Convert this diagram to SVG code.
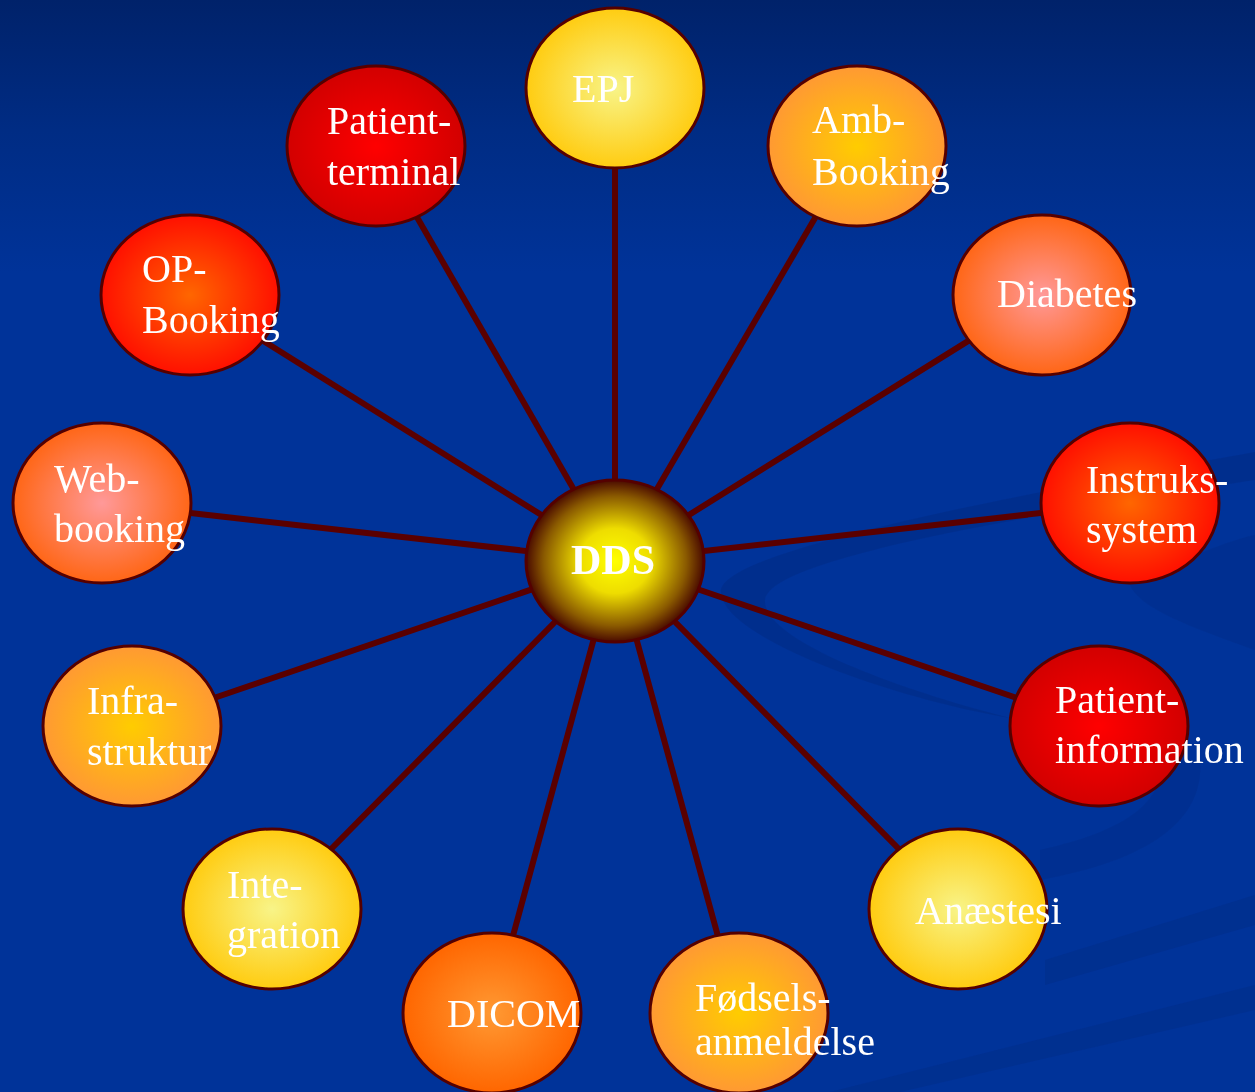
<svg xmlns="http://www.w3.org/2000/svg" width="1255" height="1092" viewBox="0 0 1255 1092">
<defs>
<linearGradient id="bg" x1="0" y1="0" x2="0" y2="1">
<stop offset="0" stop-color="#00226a"/>
<stop offset="0.12" stop-color="#002c84"/>
<stop offset="0.25" stop-color="#003399"/>
<stop offset="1" stop-color="#003399"/>
</linearGradient>
<radialGradient id="gYellow"><stop offset="0" stop-color="#f8f488"/><stop offset="1" stop-color="#ffcc11"/></radialGradient>
<radialGradient id="gRed"><stop offset="0" stop-color="#ff0000"/><stop offset="1" stop-color="#d20000"/></radialGradient>
<radialGradient id="gOrange"><stop offset="0" stop-color="#ffcc00"/><stop offset="1" stop-color="#ff9933"/></radialGradient>
<radialGradient id="gPink"><stop offset="0" stop-color="#ff9999"/><stop offset="1" stop-color="#ff6616"/></radialGradient>
<radialGradient id="gRedOr"><stop offset="0" stop-color="#ff6600"/><stop offset="1" stop-color="#ff1000"/></radialGradient>
<radialGradient id="gDicom"><stop offset="0" stop-color="#ff9933"/><stop offset="1" stop-color="#ff6600"/></radialGradient>
<radialGradient id="gDDS"><stop offset="0" stop-color="#ffff00"/><stop offset="0.4" stop-color="#eedd00"/><stop offset="0.8" stop-color="#8a5a00"/><stop offset="1" stop-color="#4a0a00"/></radialGradient>
<style>
.node{stroke:#550000;stroke-width:3}
.lbl{font-family:"Liberation Serif","Times New Roman",serif;font-size:40px;fill:#ffffff}
.dds{font-family:"Liberation Serif","Times New Roman",serif;font-size:42px;font-weight:bold;fill:#ffffff}
.conn line{stroke:#5a0000;stroke-width:6}
.sw{fill:#002f8c}
</style>
</defs>
<rect width="1255" height="1092" fill="url(#bg)"/>
<g id="swoosh" opacity="0.85">
<path class="sw" fill-rule="evenodd" d="M 721,593 C 715,560 900,515 1255,452 L 1255,480 C 1000,520 770,560 765,600 C 762,640 900,690 1010,718 C 900,700 725,640 721,593 Z"/>
<path class="sw" d="M 1130,585 C 1180,560 1230,540 1255,535 L 1255,650 C 1200,630 1140,610 1130,585 Z" opacity="0.7"/>
<path class="sw" d="M 1040,850 C 1130,830 1165,800 1160,760 L 1200,760 C 1205,820 1150,860 1040,880 Z" opacity="0.7"/>
<path class="sw" d="M 1045,960 L 1255,895 L 1255,925 L 1045,985 Z" opacity="0.8"/>
<path class="sw" d="M 830,1092 L 1255,985 L 1255,1010 L 900,1092 Z" opacity="0.8"/>
</g>
<g id="connectors" class="conn">
<line x1="615" y1="561" x2="615" y2="88"/>
<line x1="615" y1="561" x2="376" y2="146"/>
<line x1="615" y1="561" x2="857" y2="146"/>
<line x1="615" y1="561" x2="190" y2="295"/>
<line x1="615" y1="561" x2="1042" y2="295"/>
<line x1="615" y1="561" x2="102" y2="503"/>
<line x1="615" y1="561" x2="1130" y2="503"/>
<line x1="615" y1="561" x2="132" y2="726"/>
<line x1="615" y1="561" x2="1099" y2="726"/>
<line x1="615" y1="561" x2="272" y2="909"/>
<line x1="615" y1="561" x2="958" y2="909"/>
<line x1="615" y1="561" x2="492" y2="1013"/>
<line x1="615" y1="561" x2="739" y2="1013"/>
</g>
<g id="n-epj"><ellipse class="node" cx="615" cy="88" rx="89" ry="80" fill="url(#gYellow)"/><text class="lbl" x="572" y="102">EPJ</text></g>
<g id="n-patientterminal"><ellipse class="node" cx="376" cy="146" rx="89" ry="80" fill="url(#gRed)"/><text class="lbl" x="327" y="134">Patient-</text><text class="lbl" x="327" y="185">terminal</text></g>
<g id="n-ambbooking"><ellipse class="node" cx="857" cy="146" rx="89" ry="80" fill="url(#gOrange)"/><text class="lbl" x="812" y="133">Amb-</text><text class="lbl" x="812" y="185">Booking</text></g>
<g id="n-opbooking"><ellipse class="node" cx="190" cy="295" rx="89" ry="80" fill="url(#gRedOr)"/><text class="lbl" x="142" y="282">OP-</text><text class="lbl" x="142" y="333">Booking</text></g>
<g id="n-diabetes"><ellipse class="node" cx="1042" cy="295" rx="89" ry="80" fill="url(#gPink)"/><text class="lbl" x="997" y="307">Diabetes</text></g>
<g id="n-webbooking"><ellipse class="node" cx="102" cy="503" rx="89" ry="80" fill="url(#gPink)"/><text class="lbl" x="54" y="492">Web-</text><text class="lbl" x="54" y="542">booking</text></g>
<g id="n-instruks"><ellipse class="node" cx="1130" cy="503" rx="89" ry="80" fill="url(#gRedOr)"/><text class="lbl" x="1086" y="493">Instruks-</text><text class="lbl" x="1086" y="543">system</text></g>
<g id="n-infra"><ellipse class="node" cx="132" cy="726" rx="89" ry="80" fill="url(#gOrange)"/><text class="lbl" x="87" y="714">Infra-</text><text class="lbl" x="87" y="765">struktur</text></g>
<g id="n-patientinfo"><ellipse class="node" cx="1099" cy="726" rx="89" ry="80" fill="url(#gRed)"/><text class="lbl" x="1055" y="713">Patient-</text><text class="lbl" x="1055" y="763">information</text></g>
<g id="n-integration"><ellipse class="node" cx="272" cy="909" rx="89" ry="80" fill="url(#gYellow)"/><text class="lbl" x="227" y="898">Inte-</text><text class="lbl" x="227" y="948">gration</text></g>
<g id="n-anaestesi"><ellipse class="node" cx="958" cy="909" rx="89" ry="80" fill="url(#gYellow)"/><text class="lbl" x="915" y="924">Anæstesi</text></g>
<g id="n-dicom"><ellipse class="node" cx="492" cy="1013" rx="89" ry="80" fill="url(#gDicom)"/><text class="lbl" x="447" y="1027">DICOM</text></g>
<g id="n-foedsel"><ellipse class="node" cx="739" cy="1013" rx="89" ry="80" fill="url(#gOrange)"/><text class="lbl" x="695" y="1011">Fødsels-</text><text class="lbl" x="695" y="1055">anmeldelse</text></g>
<g id="n-dds"><ellipse class="node" cx="615" cy="561" rx="89" ry="81" fill="url(#gDDS)"/><text class="dds" x="571" y="574">DDS</text></g>
</svg>
